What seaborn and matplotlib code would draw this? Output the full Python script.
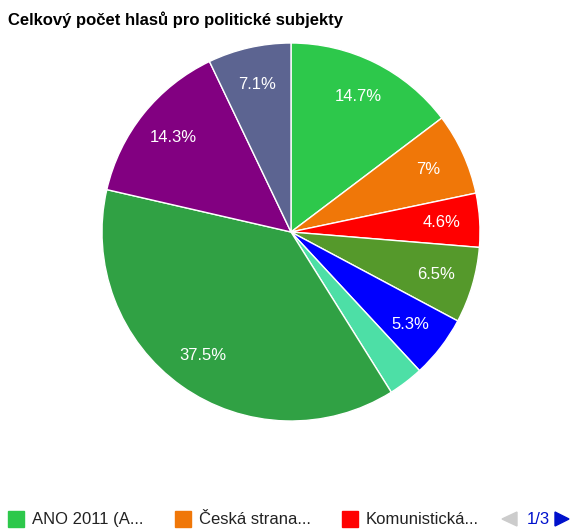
import matplotlib
matplotlib.use("Agg")
import matplotlib.pyplot as plt
from matplotlib.patches import Rectangle, Polygon
import seaborn as sns

sns.set_style("white")
plt.rcParams['font.family'] = ['Liberation Sans', 'DejaVu Sans']

title = "Celkový počet hlasů pro politické subjekty"
parties = ["ANO 2011 (A...", "Česká strana...", "Komunistická...", "Strana 4", "Strana 5",
           "Strana 6", "Strana 7", "Strana 8", "Strana 9"]
shares = [14.7, 7.0, 4.6, 6.5, 5.3, 3.0, 37.5, 14.3, 7.1]
colors = ["#2dc84b", "#f07708", "#ff0000", "#55992b", "#0000ff",
          "#4ddfa6", "#30a144", "#820081", "#5c6491"]
legend_shown = 3
page_label = "1/3"

palette = sns.color_palette(colors)

W, H = 572, 530
fig = plt.figure(figsize=(W / 100, H / 100), dpi=100)
cx, cy, r = 291, 232, 189
ax = fig.add_axes([(cx - r) / W, 1 - (cy + r) / H, 2 * r / W, 2 * r / H])

def fmt(p):
    if p < 4:
        return ""
    s = f"{p:.1f}"
    if s.endswith(".0"):
        s = s[:-2]
    return s + "%"

wedges, texts, autotexts = ax.pie(
    shares, colors=palette, startangle=90, counterclock=False,
    autopct=fmt, pctdistance=0.8, radius=1,
    wedgeprops=dict(edgecolor="white", linewidth=1),
    textprops=dict(color="white", fontsize=12))
ax.set_xlim(-1, 1)
ax.set_ylim(-1, 1)
ax.axis("off")

fig.text(8 / W, 1 - 25 / H, title, fontsize=12, fontweight="bold", color="#000000",
         va="baseline", ha="left")

# legend
base = 524
xs = [8, 175, 342]
for i in range(legend_shown):
    x = xs[i]
    fig.patches.append(Rectangle((x / W, 1 - 527 / H), 16 / W, 16 / H,
                                 transform=fig.transFigure, color=palette[i]))
    fig.text((x + 24) / W, 1 - base / H, parties[i], fontsize=12, color="#222222",
             va="baseline", ha="left")
# pager
fig.patches.append(Polygon([[517 / W, 1 - 512 / H], [517 / W, 1 - 526 / H],
                            [502 / W, 1 - 519 / H]], closed=True,
                           transform=fig.transFigure, color="#cccccc"))
fig.text(527 / W, 1 - base / H, page_label, fontsize=12, color="#0011cc",
         va="baseline", ha="left")
fig.patches.append(Polygon([[555 / W, 1 - 512 / H], [555 / W, 1 - 526 / H],
                            [569 / W, 1 - 519 / H]], closed=True,
                           transform=fig.transFigure, color="#0011cc"))

fig.savefig("out.png", dpi=100)
